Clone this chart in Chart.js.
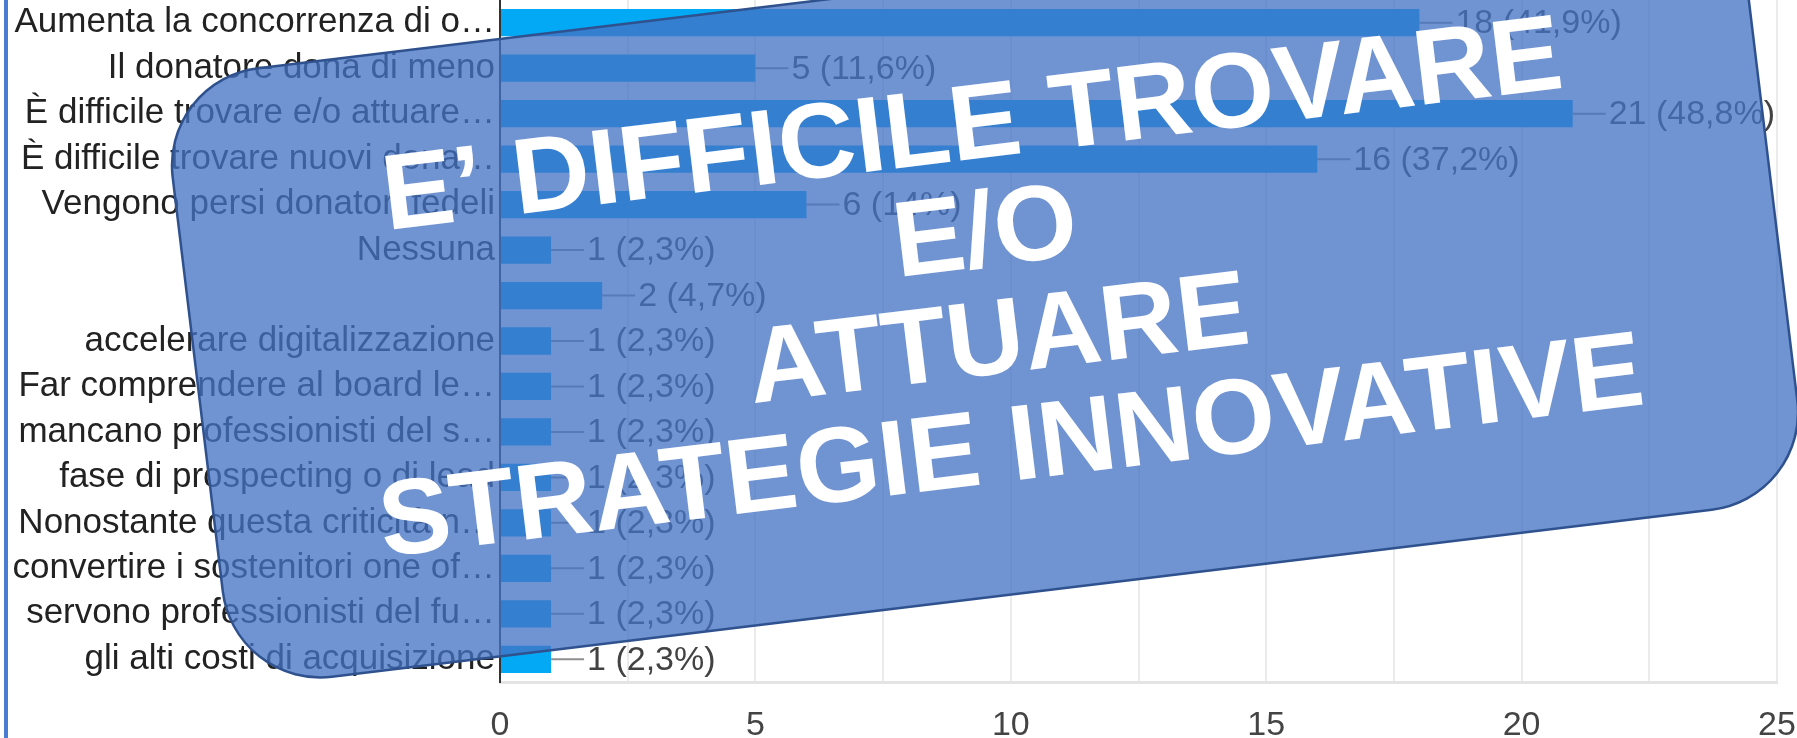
<!DOCTYPE html>
<html>
<head>
<meta charset="utf-8">
<script src="https://cdn.jsdelivr.net/npm/chart.js@4.4.1/dist/chart.umd.min.js"></script>
<style>
  html, body { margin: 0; padding: 0; background: #ffffff; }
  #wrap { position: relative; width: 1797px; height: 738px; overflow: hidden; }
  canvas { display: block; }
</style>
</head>
<body>
<div id="wrap"><canvas id="c" width="1797" height="738"></canvas></div>
<script>
// ---- data ----
const categories = [
  'Aumenta la concorrenza di o…',
  'Il donatore dona di meno',
  'È difficile trovare e/o attuare…',
  'È difficile trovare nuovi dona…',
  'Vengono persi donatori fedeli',
  'Nessuna',
  '',
  'accelerare digitalizzazione',
  'Far comprendere al board le…',
  'mancano professionisti del s…',
  'fase di prospecting o di lead',
  'Nonostante questa criticità n…',
  'convertire i sostenitori one of…',
  'servono professionisti del fu…',
  'gli alti costi di acquisizione'
];
const counts = [18, 5, 21, 16, 6, 1, 2, 1, 1, 1, 1, 1, 1, 1, 1];
const percentLabels = ['41,9%', '11,6%', '48,8%', '37,2%', '14%', '2,3%', '4,7%', '2,3%', '2,3%', '2,3%', '2,3%', '2,3%', '2,3%', '2,3%', '2,3%'];
const xTickValues = [0, 5, 10, 15, 20, 25];
const overlayLines = ['E’ DIFFICILE TROVARE', 'E/O', 'ATTUARE', 'STRATEGIE INNOVATIVE'];

const FONT = '"Liberation Sans", Arial, sans-serif';

const backgroundPlugin = {
  id: 'bg',
  beforeDraw(chart) {
    const ctx = chart.ctx;
    ctx.save();
    ctx.fillStyle = '#ffffff';
    ctx.fillRect(0, 0, chart.width, chart.height);
    // left blue frame edge
    ctx.fillStyle = '#4a7cd2';
    ctx.fillRect(4, 0, 4, chart.height);
    ctx.restore();
  }
};

const dataLabelPlugin = {
  id: 'dataLabels',
  afterDatasetsDraw(chart) {
    const ctx = chart.ctx;
    const meta = chart.getDatasetMeta(0);
    ctx.save();
    ctx.font = '34px ' + FONT;
    ctx.textBaseline = 'middle';
    ctx.textAlign = 'left';
    meta.data.forEach((el, i) => {
      const xe = el.x, yc = el.y;
      ctx.strokeStyle = '#8f8f8f';
      ctx.lineWidth = 2;
      ctx.beginPath();
      ctx.moveTo(xe, yc);
      ctx.lineTo(xe + 33, yc);
      ctx.stroke();
      ctx.fillStyle = '#424242';
      ctx.fillText(counts[i] + ' (' + percentLabels[i] + ')', xe + 36, yc + 1);
    });
    ctx.restore();
  }
};

const overlayPlugin = {
  id: 'overlay',
  afterDraw(chart) {
    const ctx = chart.ctx;
    const ang = -6.9 * Math.PI / 180;
    const cx = 985, cy = 289;
    const w = 1586, h = 613, r = 98;
    ctx.save();
    ctx.translate(cx, cy);
    ctx.rotate(ang);
    ctx.beginPath();
    ctx.roundRect(-w / 2, -h / 2, w, h, r);
    ctx.fillStyle = 'rgba(68,114,196,0.765)';
    ctx.fill();
    ctx.lineWidth = 2.5;
    ctx.strokeStyle = '#2f528f';
    ctx.stroke();
    ctx.fillStyle = '#ffffff';
    ctx.font = 'bold 107px ' + FONT;
    ctx.textAlign = 'center';
    ctx.textBaseline = 'middle';
    const lh = 108;
    overlayLines.forEach((t, i) => {
      const yy = (i - 1.5) * lh + 2;
      ctx.fillText(t, 7, yy);
    });
    ctx.restore();
  }
};

new Chart(document.getElementById('c'), {
  type: 'bar',
  data: {
    labels: categories,
    datasets: [{
      data: counts,
      backgroundColor: '#03a9f4',
      borderWidth: 0,
      barPercentage: 0.6,
      categoryPercentage: 1.0
    }]
  },
  options: {
    indexAxis: 'y',
    responsive: false,
    animation: false,
    devicePixelRatio: 1,
    layout: { padding: { left: 0, right: 20, top: 0, bottom: 0 } },
    plugins: { legend: { display: false }, tooltip: { enabled: false } },
    scales: {
      x: {
        type: 'linear',
        min: 0, max: 25,
        grid: { color: '#ebebeb', lineWidth: 2, drawTicks: false },
        border: { color: '#e4e4e4', width: 3 },
        ticks: {
          stepSize: 2.5,
          padding: 23,
          color: '#444444',
          font: { family: FONT, size: 34 },
          callback: (v) => xTickValues.includes(v) ? String(v) : ''
        },
        afterFit(scale) { scale.height = 56; scale.paddingLeft = 0; scale.paddingRight = 0; }
      },
      y: {
        type: 'category',
        grid: { display: false, drawTicks: false },
        border: { color: '#333333', width: 2 },
        ticks: {
          autoSkip: false,
          padding: 5,
          color: '#222222',
          font: { family: FONT, size: 35 }
        },
        afterFit(scale) { scale.width = 500; scale.paddingTop = 0; scale.paddingBottom = 0; }
      }
    }
  },
  plugins: [backgroundPlugin, dataLabelPlugin, overlayPlugin]
});
</script>
</body>
</html>
